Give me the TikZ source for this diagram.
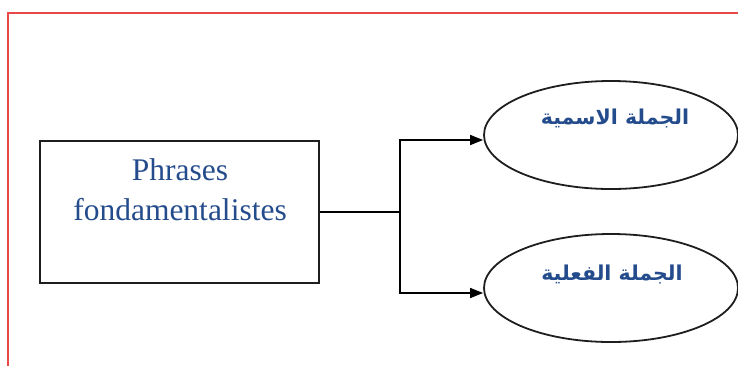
\documentclass[tikz,border=0pt]{standalone}
\usepackage{fontspec}
\setmainfont{Liberation Serif}
\newfontfamily\arabicfont[Script=Arabic]{DejaVu Sans}
\TeXXeTstate=1
\usetikzlibrary{shapes.geometric,arrows.meta}
\definecolor{txtblue}{RGB}{36,76,140}
\definecolor{framered}{RGB}{232,72,72}
\definecolor{linegray}{RGB}{30,30,30}
\tikzset{
  boxnode/.style={draw=linegray,line width=1.8pt,minimum width=279pt,minimum height=142pt,inner sep=0pt},
  ellnode/.style={draw=linegray,line width=1.8pt,ellipse,minimum width=254pt,minimum height=108pt,inner sep=0pt},
  latintext/.style={text=txtblue,font=\fontsize{31.5}{40}\selectfont,align=center,inner sep=0pt},
  arabtext/.style={text=txtblue,font=\arabicfont\bfseries\fontsize{20.5}{24}\selectfont,inner sep=0pt},
  conn/.style={draw=black,line width=1.6pt},
  arr/.style={conn,-{Triangle[length=13pt,width=10pt]}}
}
\begin{document}
\begin{tikzpicture}[x=1pt,y=-1pt]
\useasboundingbox (0,0) rectangle (738,365);
\clip (0,0) rectangle (738,365);
\draw[framered,line width=1.6pt] (8,366) -- (8,13) -- (739,13);
\node[boxnode] (box) at (179.5,212) {};
\node[latintext] (ltext) at (180,190) {Phrases\\fondamentalistes};
\node[ellnode] (e1) at (611,135) {};
\node[ellnode] (e2) at (611,288) {};
\node[arabtext] (t1) at (615,118) {\beginR الجملة الاسمية\endR};
\node[arabtext] (t2) at (612,274) {\beginR الجملة الفعلية\endR};
\coordinate (j) at (400,212);
\draw[conn] (box.east) -- (j);
\draw[arr] (j) |- ([yshift=-5pt]e1.west);
\draw[arr] (j) |- ([yshift=-5pt]e2.west);
\end{tikzpicture}
\end{document}
